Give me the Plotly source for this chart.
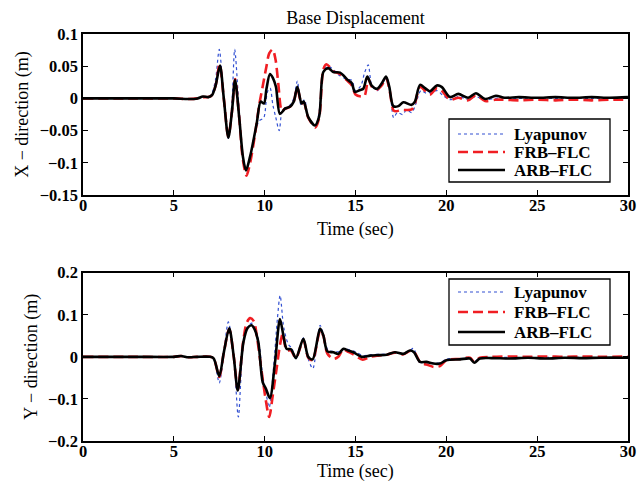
import plotly.graph_objects as go

# ---------------- data ----------------
# Top panel: X-direction base displacement (m)
x_arb_t = [0, 3, 5, 5.8, 6.3, 6.6, 6.9, 7.1, 7.3, 7.54, 7.75, 8.0, 8.2, 8.37, 8.6, 8.8, 8.97, 9.2, 9.56, 9.78,
           9.96, 10.1, 10.29, 10.45, 10.62, 10.84, 11.12, 11.39, 11.6, 11.8, 12.03, 12.15, 12.4, 12.77, 13.0, 13.23,
           13.5, 13.78, 14.15, 14.6, 14.79, 14.97, 15.25, 15.43, 15.65, 15.89, 16.2, 16.44, 16.68, 16.86, 17.08,
           17.36, 17.63, 18.09, 18.27, 18.55, 18.83, 19.1, 19.47, 19.74, 20.2, 20.66, 21.2, 21.63, 22.13, 22.73,
           23.2, 24, 25, 26, 27, 28, 29, 30]
x_arb_v = [0, 0, 0, -0.001, 0, 0.003, 0.002, 0.005, 0.02, 0.051, 0.0, -0.061, -0.02, 0.029, -0.03, -0.09, -0.112,
           -0.09, -0.039, -0.005, -0.008, 0.015, 0.038, 0.032, 0.018, -0.024, -0.016, -0.013, -0.005, 0.018, -0.008,
           -0.005, -0.029, -0.042, -0.028, 0.041, 0.047, 0.041, 0.040, 0.028, 0.024, 0.010, 0.013, 0.015, 0.034,
           0.020, 0.015, 0.023, 0.034, 0.018, -0.012, -0.012, -0.006, -0.010, -0.005, 0.021, 0.016, 0.011, 0.020,
           0.018, 0.002, 0.007, 0.001, 0.008, -0.001, 0.004, 0.001, 0.002, 0.001, 0.002, 0.001, 0.002, 0.001, 0.002]

x_frb_t = [0, 3, 5, 5.8, 6.3, 6.6, 6.9, 7.1, 7.3, 7.52, 7.75, 8.0, 8.2, 8.37, 8.6, 8.8, 9.0, 9.2, 9.5, 9.7, 9.9,
           10.1, 10.25, 10.44, 10.6, 10.75, 10.95, 11.12, 11.39, 11.6, 11.8, 12.03, 12.15, 12.4, 12.8, 13.0, 13.23,
           13.4, 13.6, 13.78, 14.15, 14.6, 14.8, 15.0, 15.3, 15.5, 15.7, 15.9, 16.2, 16.44, 16.68, 16.86, 17.1,
           17.25, 17.5, 17.8, 18.1, 18.27, 18.55, 18.83, 19.1, 19.47, 19.74, 20.2, 20.66, 21.2, 21.63, 22.13, 22.7,
           23.2, 24, 25, 26, 27, 28, 29, 30]
x_frb_v = [0, 0, 0, -0.001, 0, 0.002, 0.002, 0.005, 0.02, 0.053, 0.0, -0.06, -0.02, 0.030, -0.03, -0.095, -0.12,
           -0.10, -0.05, -0.01, 0.02, 0.05, 0.07, 0.076, 0.06, 0.023, -0.02, -0.016, -0.013, -0.005, 0.016, -0.008,
           -0.006, -0.03, -0.045, -0.03, 0.045, 0.053, 0.048, 0.042, 0.038, 0.026, 0.020, 0.006, 0.003, 0.004, 0.030,
           0.018, 0.014, 0.020, 0.032, 0.015, -0.019, -0.020, -0.018, -0.018, -0.017, -0.008, 0.018, 0.012, 0.006,
           0.016, 0.012, -0.002, 0.001, -0.003, 0.005, -0.004, -0.002, -0.002, -0.003, -0.002, -0.003, -0.002,
           -0.003, -0.002, -0.002]

x_lya_t = [0, 3, 5, 5.8, 6.3, 6.6, 6.9, 7.1, 7.3, 7.5, 7.75, 8.0, 8.2, 8.35, 8.6, 8.8, 9.0, 9.2, 9.5, 9.7, 9.95,
           10.15, 10.3, 10.45, 10.6, 10.8, 10.95, 11.1, 11.4, 11.6, 11.8, 12.0, 12.2, 12.4, 12.8, 13.0, 13.25, 13.5,
           13.8, 14.1, 14.5, 14.8, 15.0, 15.3, 15.5, 15.7, 15.9, 16.2, 16.45, 16.7, 16.9, 17.1, 17.3, 17.6, 17.8,
           18.1, 18.3, 18.6, 18.9, 19.2, 19.5, 19.8, 20.2, 20.7, 21.2, 21.6, 22.1, 22.7, 23.2, 24, 25, 26, 27, 28,
           29, 30]
x_lya_v = [0, 0, 0, -0.001, 0, 0.002, 0.002, 0.008, 0.03, 0.076, 0.0, -0.062, -0.005, 0.076, -0.02, -0.09, -0.112,
           -0.09, -0.05, -0.035, -0.03, 0.01, 0.016, -0.01, -0.028, -0.05, -0.02, -0.015, -0.01, 0.0, 0.027, -0.01,
           -0.002, -0.03, -0.042, -0.02, 0.043, 0.05, 0.044, 0.036, 0.03, 0.028, 0.012, 0.02, 0.04, 0.052, 0.02,
           0.012, 0.022, 0.032, 0.012, -0.03, -0.022, -0.025, -0.018, -0.022, -0.01, 0.012, 0.008, 0.01, 0.012,
           0.005, -0.002, 0.003, -0.002, 0.003, -0.002, 0.0, 0.001, 0.0, 0.001, 0.0, 0.001, 0.0, 0.001, 0.0]

# Bottom panel: Y-direction base displacement (m)
y_arb_t = [0, 3, 5, 5.4, 5.8, 6.3, 7.0, 7.2, 7.5, 7.75, 8.05, 8.3, 8.52, 8.83, 9.05, 9.28, 9.45, 9.65, 9.89, 10.07,
           10.29, 10.57, 10.84, 11.03, 11.21, 11.45, 11.72, 12.13, 12.4, 12.64, 13.05, 13.23, 13.45, 13.78, 14.05,
           14.33, 14.6, 14.88, 15.34, 15.8, 16.26, 16.72, 17.17, 17.63, 18.0, 18.22, 18.55, 18.9, 19.28, 19.65,
           20.0, 20.75, 21.3, 21.54, 21.85, 22.5, 23.5, 24.5, 25.5, 26.5, 27.5, 28.5, 30]
y_arb_v = [0, 0, 0, 0.002, -0.001, 0.0, 0.0, -0.004, -0.046, 0.01, 0.068, 0.0, -0.08, 0.035, 0.068, 0.075, 0.065,
           0.035, -0.06, -0.076, -0.098, -0.013, 0.090, 0.051, 0.019, 0.018, -0.003, 0.043, 0.0, -0.006, 0.067,
           0.051, 0.013, 0.011, 0.007, 0.019, 0.015, 0.011, 0.0, 0.003, 0.004, 0.005, 0.011, 0.007, 0.015, 0.011,
           -0.012, -0.012, -0.016, -0.016, -0.008, -0.006, -0.004, -0.014, -0.004, -0.003, -0.004, -0.002, -0.004,
           -0.002, -0.003, -0.002, -0.002]

y_frb_t = [0, 3, 5, 5.4, 5.8, 6.3, 7.0, 7.2, 7.5, 7.75, 8.05, 8.3, 8.52, 8.8, 9.0, 9.2, 9.4, 9.6, 9.85, 10.05,
           10.25, 10.45, 10.65, 10.85, 11.0, 11.2, 11.45, 11.72, 12.13, 12.4, 12.64, 13.05, 13.23, 13.45, 13.8,
           14.05, 14.33, 14.6, 14.88, 15.4, 15.8, 16.26, 16.72, 17.17, 17.63, 18.0, 18.22, 18.6, 18.9, 19.3, 19.65,
           20.0, 20.75, 21.3, 21.54, 21.85, 22.5, 23.5, 24.5, 25.5, 26.5, 27.5, 28.5, 30]
y_frb_v = [0, 0, 0, 0.002, -0.001, 0.0, 0.0, -0.004, -0.048, 0.01, 0.066, 0.0, -0.078, 0.03, 0.08, 0.092, 0.085,
           0.04, -0.04, -0.10, -0.143, -0.09, -0.03, 0.03, 0.055, 0.016, 0.015, -0.003, 0.04, -0.002, -0.008, 0.062,
           0.05, 0.008, -0.005, 0.0, 0.018, 0.012, 0.006, -0.007, 0.0, 0.003, 0.005, 0.01, 0.006, 0.014, 0.012,
           -0.015, -0.018, -0.024, -0.022, -0.008, -0.005, -0.002, -0.012, -0.002, 0.0, 0.001, 0.0, 0.001, 0.0,
           0.001, 0.0, 0.001]

y_lya_t = [0, 3, 5, 5.4, 5.8, 6.3, 7.0, 7.2, 7.5, 7.75, 8.0, 8.3, 8.55, 8.8, 9.05, 9.3, 9.5, 9.7, 9.9, 10.05,
           10.25, 10.5, 10.7, 10.85, 11.05, 11.3, 11.5, 11.72, 12.13, 12.4, 12.65, 13.05, 13.25, 13.5, 13.8, 14.1,
           14.4, 14.7, 15.0, 15.4, 15.8, 16.3, 16.8, 17.2, 17.6, 18.0, 18.2, 18.5, 18.9, 19.3, 19.7, 20.0, 20.75,
           21.3, 21.54, 21.85, 22.5, 23.5, 24.5, 25.5, 26.5, 27.5, 28.5, 30]
y_lya_v = [0, 0, 0, 0.002, -0.001, 0.0, 0.0, -0.006, -0.062, 0.01, 0.083, 0.0, -0.143, 0.02, 0.07, 0.08, 0.065,
           0.03, -0.05, -0.08, -0.12, -0.02, 0.09, 0.146, 0.07, 0.03, 0.02, -0.005, 0.045, -0.005, -0.028, 0.075,
           0.05, 0.015, 0.013, 0.012, 0.02, 0.016, 0.012, 0.003, 0.005, 0.006, 0.007, 0.012, 0.008, 0.016, 0.02,
           -0.012, -0.014, -0.015, -0.014, -0.005, -0.004, -0.002, -0.012, -0.002, -0.002, -0.001, -0.002, -0.001,
           -0.002, -0.001, -0.002, -0.001]

series_names = ["Lyapunov", "FRB\u2013FLC", "ARB\u2013FLC"]
x_ticks = [0, 5, 10, 15, 20, 25, 30]
top_yticks = [-0.15, -0.1, -0.05, 0, 0.05, 0.1]
top_ytext = ["\u22120.15", "\u22120.1", "\u22120.05", "0", "0.05", "0.1"]
bot_yticks = [-0.2, -0.1, 0, 0.1, 0.2]
bot_ytext = ["\u22120.2", "\u22120.1", "0", "0.1", "0.2"]

# ---------------- figure ----------------
W, H = 640, 481
ML, MR, MT, MB = 83, 12, 34, 40
FONT = "Liberation Serif, Times New Roman, serif"
styles = [
    dict(color="rgb(50,80,210)", width=1.2, dash="dot"),
    dict(color="rgb(240,30,35)", width=2.6, dash="10px,5px"),
    dict(color="black", width=2.6, dash="solid"),
]


def px_x(px):
    return (px - ML) / (W - ML - MR)


def px_y(py):
    return (H - MB - py) / (H - MT - MB)


fig = go.Figure()
top = [(x_lya_t, x_lya_v), (x_frb_t, x_frb_v), (x_arb_t, x_arb_v)]
bot = [(y_lya_t, y_lya_v), (y_frb_t, y_frb_v), (y_arb_t, y_arb_v)]
for (t, v), name, st in zip(top, series_names, styles):
    assert len(t) == len(v)
    fig.add_trace(go.Scatter(x=t, y=v, name=name, mode="lines", showlegend=False,
                             line=dict(shape="spline", smoothing=0.8, **st), xaxis="x", yaxis="y"))
for (t, v), name, st in zip(bot, series_names, styles):
    assert len(t) == len(v)
    fig.add_trace(go.Scatter(x=t, y=v, name=name, mode="lines", showlegend=False,
                             line=dict(shape="spline", smoothing=0.8, **st), xaxis="x2", yaxis="y2"))

# ---- hand-drawn legends (box, line samples, bold labels) ----
shapes, annos = [], []
for box_top, box_bot, rows in [(119, 182, [134, 152, 170]), (279, 345, [292, 312, 332])]:
    shapes.append(dict(type="rect", xref="paper", yref="paper", x0=px_x(449), x1=px_x(610),
                       y0=px_y(box_bot), y1=px_y(box_top), fillcolor="white",
                       line=dict(color="black", width=1.3), layer="above"))
    for ry, name, st in zip(rows, series_names, styles):
        shapes.append(dict(type="line", xref="paper", yref="paper", x0=px_x(458), x1=px_x(505),
                           y0=px_y(ry), y1=px_y(ry), layer="above",
                           line=dict(color=st["color"], width=st["width"], dash=st["dash"])))
        annos.append(dict(text=name, xref="paper", yref="paper", x=px_x(512), y=px_y(ry),
                          xanchor="left", yanchor="middle", showarrow=False,
                          font=dict(family=FONT, size=17, color="black", weight="bold")))

# x-axis titles placed as annotations under each panel
for ty in (229, 471):
    annos.append(dict(text="Time (sec)", xref="paper", yref="paper", x=0.5, y=px_y(ty),
                      xanchor="center", yanchor="middle", showarrow=False,
                      font=dict(family=FONT, size=18, color="black")))

axis_common = dict(showgrid=False, zeroline=False, showline=True, linecolor="black", linewidth=1.5,
                   mirror="ticks", ticks="inside", ticklen=5, tickwidth=1, tickcolor="black", automargin=False,
                   tickfont=dict(family=FONT, size=16.5, color="black", weight="bold"))
title_font = dict(family=FONT, size=18, color="black")

fig.update_layout(
    width=W, height=H,
    margin=dict(l=ML, r=MR, t=MT, b=MB),
    paper_bgcolor="white", plot_bgcolor="white",
    font=dict(family=FONT, color="black"),
    showlegend=False,
    title=dict(text="Base Displacement", x=0.5555, xanchor="center", y=0.963, yanchor="middle",
               font=dict(family=FONT, size=18, color="black"), automargin=False),
    xaxis=dict(domain=[0, 1], range=[0, 30], tickvals=x_ticks, anchor="y", ticklabelstandoff=-6,
               **axis_common),
    yaxis=dict(domain=[px_y(195), 1], range=[-0.15, 0.1], tickvals=top_yticks, ticktext=top_ytext, anchor="x",
               title=dict(text="X \u2212 direction (m)", font=title_font, standoff=6), **axis_common),
    xaxis2=dict(domain=[0, 1], range=[0, 30], tickvals=x_ticks, anchor="y2", ticklabelstandoff=-6,
                **axis_common),
    yaxis2=dict(domain=[0, px_y(272.7)], range=[-0.2, 0.2], tickvals=bot_yticks, ticktext=bot_ytext,
                anchor="x2", title=dict(text="Y \u2212 direction (m)", font=title_font, standoff=6),
                **axis_common),
    shapes=shapes,
    annotations=annos,
)

fig.write_html("out.html", config={"displayModeBar": False},
               post_script="document.body.style.margin='0';")
